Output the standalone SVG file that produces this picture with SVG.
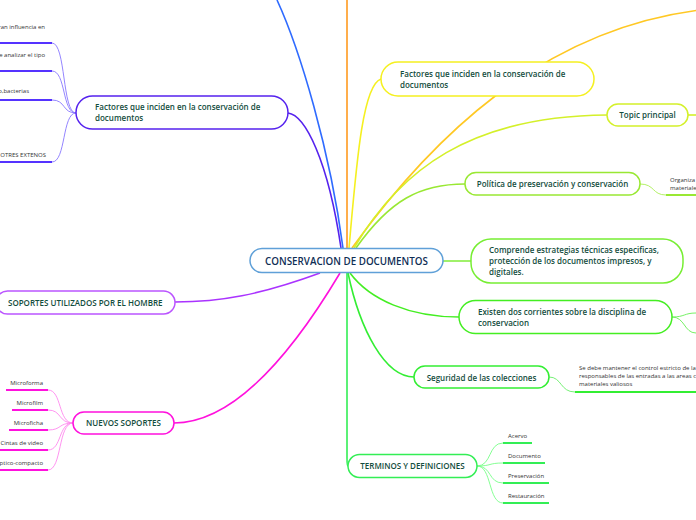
<svg xmlns="http://www.w3.org/2000/svg" width="696" height="520" viewBox="0 0 696 520">
<style>
  .node rect { fill: #ffffff; stroke-width: 1.5; }
  .t { font-family: "Open Sans", "Noto Sans", sans-serif; fill: #134d3d; font-weight: 600; }
  .leaf { font-family: "Open Sans", "Noto Sans", sans-serif; fill: #333333; font-size: 6px; }
  .c { fill: none; stroke-width: 1.6; }
  .lc { fill: none; stroke-width: 0.9; }
  .ul { fill: none; stroke-width: 2; }
</style>
<rect width="696" height="520" fill="#ffffff"/>
<g id="connectors">
  <path class="c" stroke="#2f6bff" d="M343,248 C330,150 300,50 277,0"/>
  <path class="c" stroke="#5522ee" d="M288,113 C305,115 328,160 341,248"/>
  <path class="c" stroke="#ff9a1f" d="M347,0 L347,248"/>
  <path class="c" stroke="#f5f020" d="M349,248 C356,170 362,85 381,79"/>
  <path class="c" stroke="#ffc824" d="M352,248 C430,140 540,30 700,10"/>
  <path class="c" stroke="#d4f02a" d="M354,248 C400,170 470,116 607,115"/>
  <path class="c" stroke="#99e833" d="M356,248 C390,200 420,184 465,184"/>
  <path class="c" stroke="#88ee44" d="M443,261 L471,261"/>
  <path class="c" stroke="#44ee22" d="M350,273 C370,300 410,317 459,317"/>
  <path class="c" stroke="#33ee33" d="M348,273 C360,330 385,377 414,377"/>
  <path class="c" stroke="#33ee55" d="M347,273 L347,458 C347,463 347,466 348,466"/>
  <path class="c" stroke="#ff11dd" d="M340,273 C300,340 240,423 174,423"/>
  <path class="c" stroke="#aa33ff" d="M320,273 C260,295 220,302 175,302"/>
  <path class="c" stroke="#d4f02a" d="M688,115 L696,115"/>
  <path class="lc" stroke="#aaee55" d="M640,184 C655,184 652,195 666,195"/>
  <path class="ul" stroke="#99e833" d="M666,195 L696,195"/>
  <path class="lc" stroke="#66ee55" d="M672,317 C685,317 684,313 696,313"/>
  <path class="lc" stroke="#66ee55" d="M672,317 C685,317 684,333 696,333"/>
  <path class="lc" stroke="#66ee66" d="M549,377 C562,377 560,392 575,392"/>
  <path class="ul" stroke="#33ee33" d="M575,392 L696,392"/>
  <path class="lc" stroke="#77ff88" d="M477,466 C492,466 488,443 503,443"/>
  <path class="lc" stroke="#77ff88" d="M477,466 C492,466 488,463 503,463"/>
  <path class="lc" stroke="#77ff88" d="M477,466 C492,466 488,483 503,483"/>
  <path class="lc" stroke="#77ff88" d="M477,466 C492,466 488,503 503,503"/>
  <path class="ul" stroke="#33ee55" d="M503,443 L532,443 M503,463 L545,463 M503,483 L549,483 M503,503 L549,503"/>
  <path class="lc" stroke="#8877ff" d="M76,113 C62,113 66,43 52,43"/>
  <path class="lc" stroke="#8877ff" d="M76,113 C62,113 66,71 52,71"/>
  <path class="lc" stroke="#8877ff" d="M76,113 C62,113 66,100 52,100"/>
  <path class="lc" stroke="#8877ff" d="M76,113 C62,113 66,162 52,162"/>
  <path class="ul" stroke="#5533ff" d="M0,43 L52,43 M0,71 L52,71 M0,100 L52,100 M0,162 L52,162"/>
  <path class="lc" stroke="#ff88ee" d="M73,423 C58,423 62,390 48,390"/>
  <path class="lc" stroke="#ff88ee" d="M73,423 C58,423 62,410 48,410"/>
  <path class="lc" stroke="#ff88ee" d="M73,423 C58,423 62,430 48,430"/>
  <path class="lc" stroke="#ff88ee" d="M73,423 C58,423 62,450 48,450"/>
  <path class="lc" stroke="#ff88ee" d="M73,423 C58,423 62,470 48,470"/>
  <path class="ul" stroke="#ff11dd" d="M6,390 L48,390 M12,410 L48,410 M9,430 L48,430 M0,450 L48,450 M0,470 L48,470"/>
</g>

<g id="central">
  <rect x="250" y="248.5" width="193" height="24" rx="12" fill="#ffffff" stroke="#5fa0d8" stroke-width="1.5"/>
  <text class="t" x="346.5" y="264.5" font-size="9.8" text-anchor="middle" style="fill:#0f2e55">CONSERVACION DE DOCUMENTOS</text>
</g>

<g id="factores-left" class="node">
  <rect x="76" y="96" width="212" height="33" rx="16.5" stroke="#5522ee"/>
  <text class="t" font-size="8"><tspan x="95" y="110">Factores que inciden en la conservación de</tspan><tspan x="95" y="121">documentos</tspan></text>
</g>
<g id="leaf-f1"><text class="leaf" x="45" y="29" text-anchor="end">ran influencia en</text></g>
<g id="leaf-f2"><text class="leaf" x="45" y="57" text-anchor="end">e analizar el tipo</text></g>
<g id="leaf-f3"><text class="leaf" x="29" y="93" text-anchor="end">o,bacterias</text></g>
<g id="leaf-f4"><text class="leaf" x="46" y="157" text-anchor="end">OTRES EXTENOS</text></g>

<g id="soportes" class="node">
  <rect x="-4" y="291" width="179" height="23" rx="11.5" stroke="#bb55ff"/>
  <text class="t" x="8" y="305.5" font-size="8" font-weight="500">SOPORTES UTILIZADOS POR EL HOMBRE</text>
</g>

<g id="nuevos" class="node">
  <rect x="73" y="412" width="101" height="22" rx="11" stroke="#ff11dd"/>
  <text class="t" x="123.5" y="426" font-size="8" font-weight="500" text-anchor="middle">NUEVOS SOPORTES</text>
</g>
<g id="leaf-n1"><text class="leaf" x="43" y="385" text-anchor="end">Microforma</text></g>
<g id="leaf-n2"><text class="leaf" x="43" y="405" text-anchor="end">Microfilm</text></g>
<g id="leaf-n3"><text class="leaf" x="43" y="425" text-anchor="end">Microficha</text></g>
<g id="leaf-n4"><text class="leaf" x="43" y="445" text-anchor="end">Cintas de video</text></g>
<g id="leaf-n5"><text class="leaf" x="43" y="465" text-anchor="end">ptico-compacto</text></g>

<g id="factores-right" class="node">
  <rect x="381" y="62" width="213" height="34" rx="17" stroke="#f5f020"/>
  <text class="t" font-size="8"><tspan x="400" y="77">Factores que inciden en la conservación de</tspan><tspan x="400" y="88">documentos</tspan></text>
</g>

<g id="topic" class="node">
  <rect x="607" y="104" width="81" height="22" rx="11" stroke="#d4f02a"/>
  <text class="t" x="647.5" y="118" font-size="8" text-anchor="middle">Topic principal</text>
</g>

<g id="politica" class="node">
  <rect x="465" y="172.5" width="175" height="22.5" rx="11" stroke="#99e833"/>
  <text class="t" x="552.5" y="187" font-size="8" text-anchor="middle">Política de preservación y conservación</text>
</g>
<g id="leaf-p1"><text class="leaf" font-size="5.5"><tspan x="670" y="182">Organiza</tspan><tspan x="670" y="190">materiale</tspan></text></g>

<g id="comprende" class="node">
  <rect x="471" y="239" width="212" height="44" rx="20" stroke="#77ee33"/>
  <text class="t" font-size="8"><tspan x="489" y="253">Comprende estrategias técnicas especificas,</tspan><tspan x="489" y="264">protección de los documentos impresos, y</tspan><tspan x="489" y="275">digitales.</tspan></text>
</g>

<g id="existen" class="node">
  <rect x="459" y="300.5" width="213" height="33" rx="16.5" stroke="#44ee22"/>
  <text class="t" font-size="8"><tspan x="478" y="315">Existen dos corrientes sobre la disciplina de</tspan><tspan x="478" y="326">conservacion</tspan></text>
</g>

<g id="seguridad" class="node">
  <rect x="414" y="366" width="135" height="22" rx="11" stroke="#33ee33"/>
  <text class="t" x="481.5" y="380.5" font-size="8" text-anchor="middle">Seguridad de las colecciones</text>
</g>
<g id="leaf-s1"><text class="leaf" font-size="5.5"><tspan x="579" y="370">Se debe mantener el control estricto de la</tspan><tspan x="579" y="378">responsables de las entradas a las areas c</tspan><tspan x="579" y="386">materiales valiosos</tspan></text></g>

<g id="terminos" class="node">
  <rect x="348" y="454.5" width="129" height="23" rx="11.5" stroke="#33ee55"/>
  <text class="t" x="412.5" y="469" font-size="8" font-weight="500" text-anchor="middle">TERMINOS Y DEFINICIONES</text>
</g>
<g id="leaf-t1"><text class="leaf" x="508" y="438">Acervo</text></g>
<g id="leaf-t2"><text class="leaf" x="508" y="458">Documento</text></g>
<g id="leaf-t3"><text class="leaf" x="508" y="478">Preservación</text></g>
<g id="leaf-t4"><text class="leaf" x="508" y="498">Restauración</text></g>
</svg>
